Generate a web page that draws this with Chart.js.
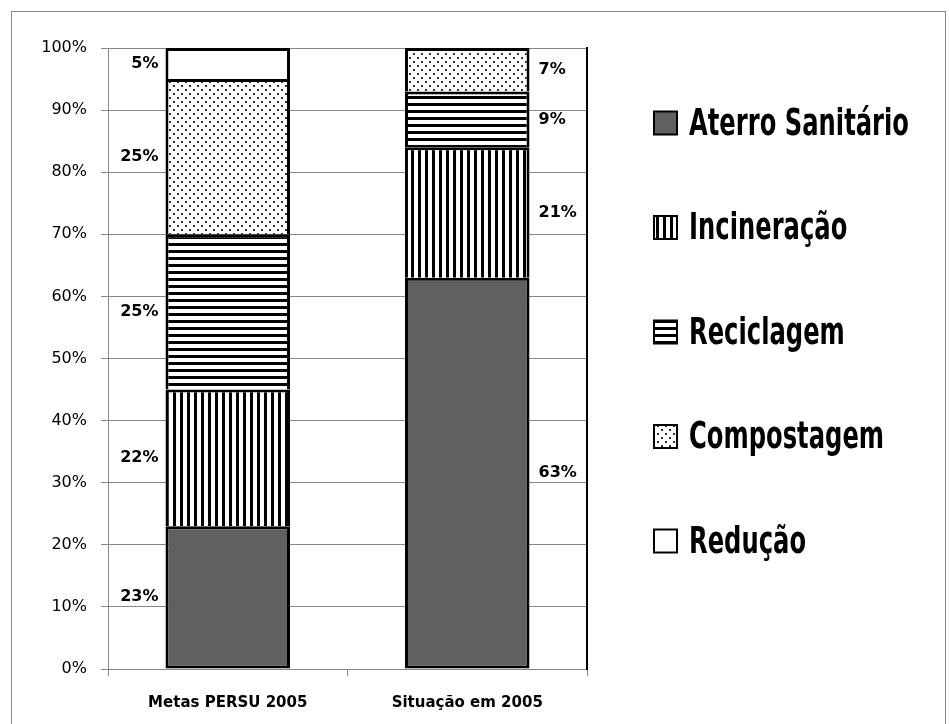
<!DOCTYPE html>
<html>
<head>
<meta charset="utf-8">
<script src="https://cdn.jsdelivr.net/npm/chart.js@4.4.0/dist/chart.umd.min.js"></script>
<style>
body{margin:0;background:#fff;}
#box{position:absolute;left:11px;top:11px;width:933px;height:713px;border:1px solid #878787;}
</style>
</head>
<body>
<div id="box"><canvas id="c" width="933" height="713"></canvas></div>
<script>
// data
const categories=['Metas PERSU 2005','Situação em 2005'];
const seriesNames=['Aterro Sanitário','Incineração','Reciclagem','Compostagem','Redução'];
const aterro=[23,63];
const incineracao=[22,21];
const reciclagem=[25,9];
const compostagem=[25,7];
const reducao=[5,0];
const yMax=100;
const yStep=10;

const canvas=document.getElementById('c');
const ctx=canvas.getContext('2d');

// fill patterns
function makeTile(w,h,draw){
	const t=document.createElement('canvas');
	t.width=w;t.height=h;
	const g=t.getContext('2d');
	g.fillStyle='#fff';
	g.fillRect(0,0,w,h);
	g.fillStyle='#000';
	draw(g);
	return ctx.createPattern(t,'repeat');
}
const vStripes=makeTile(7,7,g=>g.fillRect(0,0,3,7));
const hStripes=makeTile(7,7,g=>g.fillRect(0,0,7,3));
const dots=makeTile(8,8,g=>{g.fillStyle='#333';g.fillRect(1,1,2,2);g.fillRect(5,5,2,2);});

const fills=['#606060',vStripes,hStripes,dots,'#fff'];
const values=[aterro,incineracao,reciclagem,compostagem,reducao];

const datasets=seriesNames.map((name,i)=>({
	label:name,
	data:values[i],
	backgroundColor:fills[i],
	borderColor:'#000',
	borderWidth:3,
	borderSkipped:i==0?false:'start',
	categoryPercentage:0.52,
	barPercentage:1
}));

// percent labels next to each segment
const segLabels={
	id:'segLabels',
	afterDatasetsDraw(chart){
		const c=chart.ctx;
		c.save();
		c.font='bold 16px "DejaVu Sans"';
		c.fillStyle='#000';
		c.textBaseline='middle';
		chart.data.datasets.forEach((ds,i)=>{
			chart.getDatasetMeta(i).data.forEach((bar,j)=>{
				const v=ds.data[j];
				if(!v) return;
				const p=bar.getProps(['x','y','base','width'],true);
				const yc=(p.y+p.base)/2;
				if(j==0){
					c.textAlign='right';
					c.fillText(v+'%',p.x-p.width/2-7,yc);
				}else{
					c.textAlign='left';
					c.fillText(v+'%',p.x+p.width/2+9,yc);
				}
			});
		});
		c.restore();
	}
};

// legend on the right, narrow tall lettering
const sideLegend={
	id:'sideLegend',
	afterDraw(chart){
		const c=chart.ctx;
		const x0=chart.chartArea.right+67;
		const y0=111;
		const gap=104.5;
		c.save();
		c.font='bold 38px "DejaVu Sans"';
		const sx=220/c.measureText(seriesNames[0]).width;
		chart.data.datasets.forEach((ds,i)=>{
			const yc=y0+i*gap;
			c.fillStyle=ds.backgroundColor;
			c.fillRect(x0,yc-11.5,23,23);
			c.lineWidth=2;
			c.strokeStyle='#000';
			c.strokeRect(x0,yc-11.5,23,23);
			c.save();
			c.translate(x0+35,yc);
			c.scale(sx,1);
			c.fillStyle='#000';
			c.textBaseline='middle';
			c.textAlign='left';
			c.fillText(ds.label,0,2);
			c.restore();
		});
		c.restore();
	}
};

const gridGray='#878787';

new Chart(ctx,{
	type:'bar',
	data:{labels:categories,datasets:datasets},
	options:{
		responsive:false,
		animation:false,
		layout:{padding:{top:36,left:0,right:358,bottom:0}},
		scales:{
			x:{
				stacked:true,
				grid:{drawOnChartArea:false,color:gridGray,tickLength:7},
				border:{color:gridGray},
				ticks:{color:'#000',padding:18,font:{family:'DejaVu Sans',weight:'bold',size:15}},
				afterFit:s=>{s.height=56;}
			},
			y:{
				stacked:true,
				min:0,max:yMax,
				grid:{color:gridGray,tickLength:7},
				border:{color:gridGray},
				ticks:{stepSize:yStep,color:'#000',padding:14,font:{family:'DejaVu Sans',size:16},callback:v=>v+'%'},
				afterFit:s=>{s.width=96;}
			},
			y2:{
				position:'right',
				min:0,max:yMax,
				grid:{display:false},
				ticks:{display:false},
				border:{color:'#000',width:2},
				afterFit:s=>{s.width=0;}
			}
		},
		plugins:{
			tooltip:{enabled:false},
			legend:{display:false}
		}
	},
	plugins:[segLabels,sideLegend]
});
</script>
</body>
</html>
